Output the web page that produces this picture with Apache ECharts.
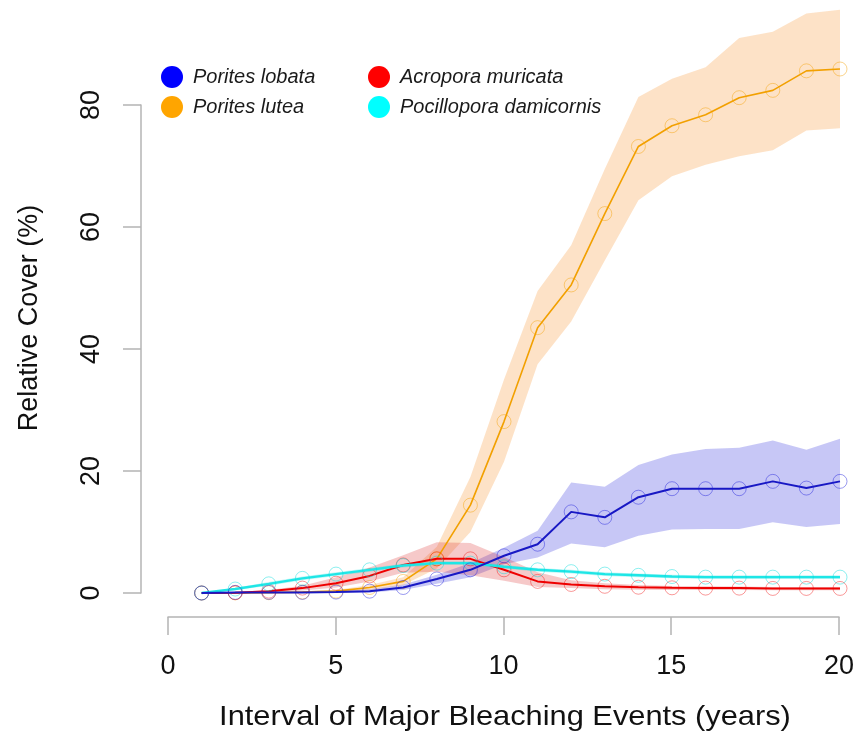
<!DOCTYPE html>
<html>
<head>
<meta charset="utf-8">
<script src="https://cdn.jsdelivr.net/npm/echarts@6/dist/echarts.min.js"></script>
<style>html,body{margin:0;padding:0;background:#fff;}#c{width:857px;height:750px;}</style>
</head>
<body>
<div id="c"></div>
<script>
// ---- data ----
var years = [1,2,3,4,5,6,7,8,9,10,11,12,13,14,15,16,17,18,19,20];
var xTicks = [0,5,10,15,20];
var yTicks = [0,20,40,60,80];

var lobataMean  = [0,0.1,0.1,0.1,0.15,0.3,0.9,2.3,3.8,6.1,8.0,13.3,12.4,15.7,17.1,17.1,17.1,18.3,17.2,18.3];
var lobataUpper = [0,0.2,0.2,0.3,0.4,0.6,1.4,3.0,4.9,7.4,10.2,18.1,17.4,21.0,22.7,23.6,23.8,25.0,23.5,25.3];
var lobataLower = [0,0,0,0,0,0.1,0.5,1.5,2.6,4.7,5.8,8.1,7.5,9.4,10.4,10.5,10.5,11.6,10.8,11.3];

var luteaMean  = [0,0.02,0.05,0.15,0.3,0.9,1.9,5.6,14.4,28.1,43.5,50.5,62.2,73.2,76.6,78.4,81.2,82.4,85.6,85.9];
var luteaUpper = [0,0.05,0.1,0.3,0.5,1.3,2.6,7.6,19.0,35.0,49.5,57.0,69.5,81.3,84.3,86.2,91.0,92.0,95.0,95.6];
var luteaLower = [0,0,0,0.05,0.1,0.5,1.3,4.0,10.0,21.5,37.5,44.5,54.5,64.4,68.3,70.2,71.6,72.6,75.8,76.2];

var muricataMean  = [0,0.05,0.3,0.8,1.6,2.8,4.6,5.6,5.6,3.8,1.9,1.4,1.1,0.95,0.85,0.8,0.8,0.75,0.75,0.75];
var muricataUpper = [0,0.15,0.5,1.2,2.6,4.2,6.2,8.3,8.2,5.9,3.4,2.1,1.6,1.3,1.15,1.1,1.05,1.0,1.0,1.0];
var muricataLower = [0,0,0.1,0.4,0.9,1.9,3.3,3.5,2.9,2.0,1.0,0.8,0.6,0.55,0.5,0.5,0.5,0.45,0.45,0.45];

var damicornisMean  = [0,0.65,1.5,2.4,3.1,3.8,4.5,4.9,4.9,4.3,3.8,3.5,3.1,2.9,2.7,2.6,2.6,2.6,2.6,2.6];
var damicornisUpper = [0,0.85,1.8,2.7,3.4,4.1,4.8,5.2,5.2,4.6,4.1,3.8,3.4,3.2,3.0,2.9,2.9,2.9,2.9,2.9];
var damicornisLower = [0,0.45,1.2,2.1,2.8,3.5,4.2,4.6,4.6,4.0,3.5,3.2,2.8,2.6,2.4,2.3,2.3,2.3,2.3,2.3];

var names = ['Porites lobata','Porites lutea','Acropora muricata','Pocillopora damicornis'];
var xTitle = 'Interval of Major Bleaching Events (years)';
var yTitle = 'Relative Cover (%)';

// ---- helpers ----
function pairs(v){ return years.map(function(x,i){ return [x, v[i]]; }); }
function band(upper, lower, fill){
  return {
    type:'custom', xAxisIndex:0, yAxisIndex:0, silent:true, z:1, clip:false,
    data:[[years[0], lower[0]]],
    renderItem:function(params, api){
      var pts = [];
      for (var i=0;i<years.length;i++) pts.push(api.coord([years[i], upper[i]]));
      for (var j=years.length-1;j>=0;j--) pts.push(api.coord([years[j], lower[j]]));
      return {type:'polygon', shape:{points:pts}, style:{fill:fill}};
    }
  };
}
function line(name, vals, color, ring, w, z){
  return {
    type:'line', name:name, xAxisIndex:0, yAxisIndex:0, data:pairs(vals), z:z, clip:false,
    symbol:'circle', symbolSize:14, showSymbol:true,
    itemStyle:{color:'rgba(0,0,0,0)', borderColor:ring, borderWidth:1},
    lineStyle:{color:color, width:w},
    emphasis:{disabled:true}
  };
}

var font = 'Liberation Sans, Arial, sans-serif';
var chart = echarts.init(document.getElementById('c'), null, {renderer:'canvas'});
chart.setOption({
  animation:false,
  backgroundColor:'#ffffff',
  grid:[
    {left:168, width:672, top:7.4, height:610},
    {left:168, width:672, top:7.4, height:609.6},
    {left:141, width:10, top:105, height:488}
  ],
  xAxis:[
    {gridIndex:0, type:'value', min:0, max:20, show:false},
    {gridIndex:1, type:'value', min:xTicks[0], max:xTicks[xTicks.length-1], interval:5, position:'bottom',
      axisLine:{show:true, lineStyle:{color:'#b4b4b4', width:1.5}},
      axisTick:{show:true, length:18, lineStyle:{color:'#b4b4b4', width:1.5}},
      splitLine:{show:false},
      axisLabel:{margin:36, fontSize:27, color:'#111', fontFamily:font}},
    {gridIndex:2, type:'value', min:0, max:1, show:false}
  ],
  yAxis:[
    {gridIndex:0, type:'value', min:-4, max:96, show:false},
    {gridIndex:1, type:'value', min:0, max:1, show:false},
    {gridIndex:2, type:'value', min:yTicks[0], max:yTicks[yTicks.length-1], interval:20, position:'left',
      axisLine:{show:true, lineStyle:{color:'#b4b4b4', width:1.5}},
      axisTick:{show:true, length:18, lineStyle:{color:'#b4b4b4', width:1.5}},
      splitLine:{show:false},
      axisLabel:{margin:36, fontSize:27, color:'#111', fontFamily:font, rotate:90}}
  ],
  legend:[
    {orient:'vertical', left:156, top:61, itemWidth:32, itemHeight:22, itemGap:8,
      textStyle:{fontSize:20, fontStyle:'italic', color:'#1a1a1a', fontFamily:font},
      data:[{name:names[0], icon:'circle', itemStyle:{color:'#0000ff', borderWidth:0}},
            {name:names[1], icon:'circle', itemStyle:{color:'#ffa500', borderWidth:0}}]},
    {orient:'vertical', left:363, top:61, itemWidth:32, itemHeight:22, itemGap:8,
      textStyle:{fontSize:20, fontStyle:'italic', color:'#1a1a1a', fontFamily:font},
      data:[{name:names[2], icon:'circle', itemStyle:{color:'#ff0000', borderWidth:0}},
            {name:names[3], icon:'circle', itemStyle:{color:'#00ffff', borderWidth:0}}]}
  ],
  graphic:[
    {type:'text', x:505, y:717, scaleX:1.1, style:{text:xTitle, font:'28px '+font, fill:'#111', align:'center', verticalAlign:'middle'}},
    {type:'text', x:30, y:318, rotation:Math.PI/2, style:{text:yTitle, font:'27px '+font, fill:'#111', align:'center', verticalAlign:'middle'}}
  ],
  series:[
    band(lobataUpper, lobataLower, 'rgba(40,40,220,0.26)'),
    band(luteaUpper, luteaLower, 'rgba(247,160,70,0.30)'),
    band(muricataUpper, muricataLower, 'rgba(220,40,40,0.25)'),
    band(damicornisUpper, damicornisLower, 'rgba(0,225,225,0.25)'),
    line(names[1], luteaMean, '#f2a000', 'rgba(245,160,0,0.45)', 1.6, 5),
    line(names[2], muricataMean, '#ee0000', 'rgba(240,0,0,0.4)', 2, 6),
    line(names[3], damicornisMean, '#1ee6e6', 'rgba(0,220,220,0.45)', 2.4, 7),
    line(names[0], lobataMean, '#1818c4', 'rgba(30,30,220,0.45)', 2, 8)
  ]
});
</script>
</body>
</html>
